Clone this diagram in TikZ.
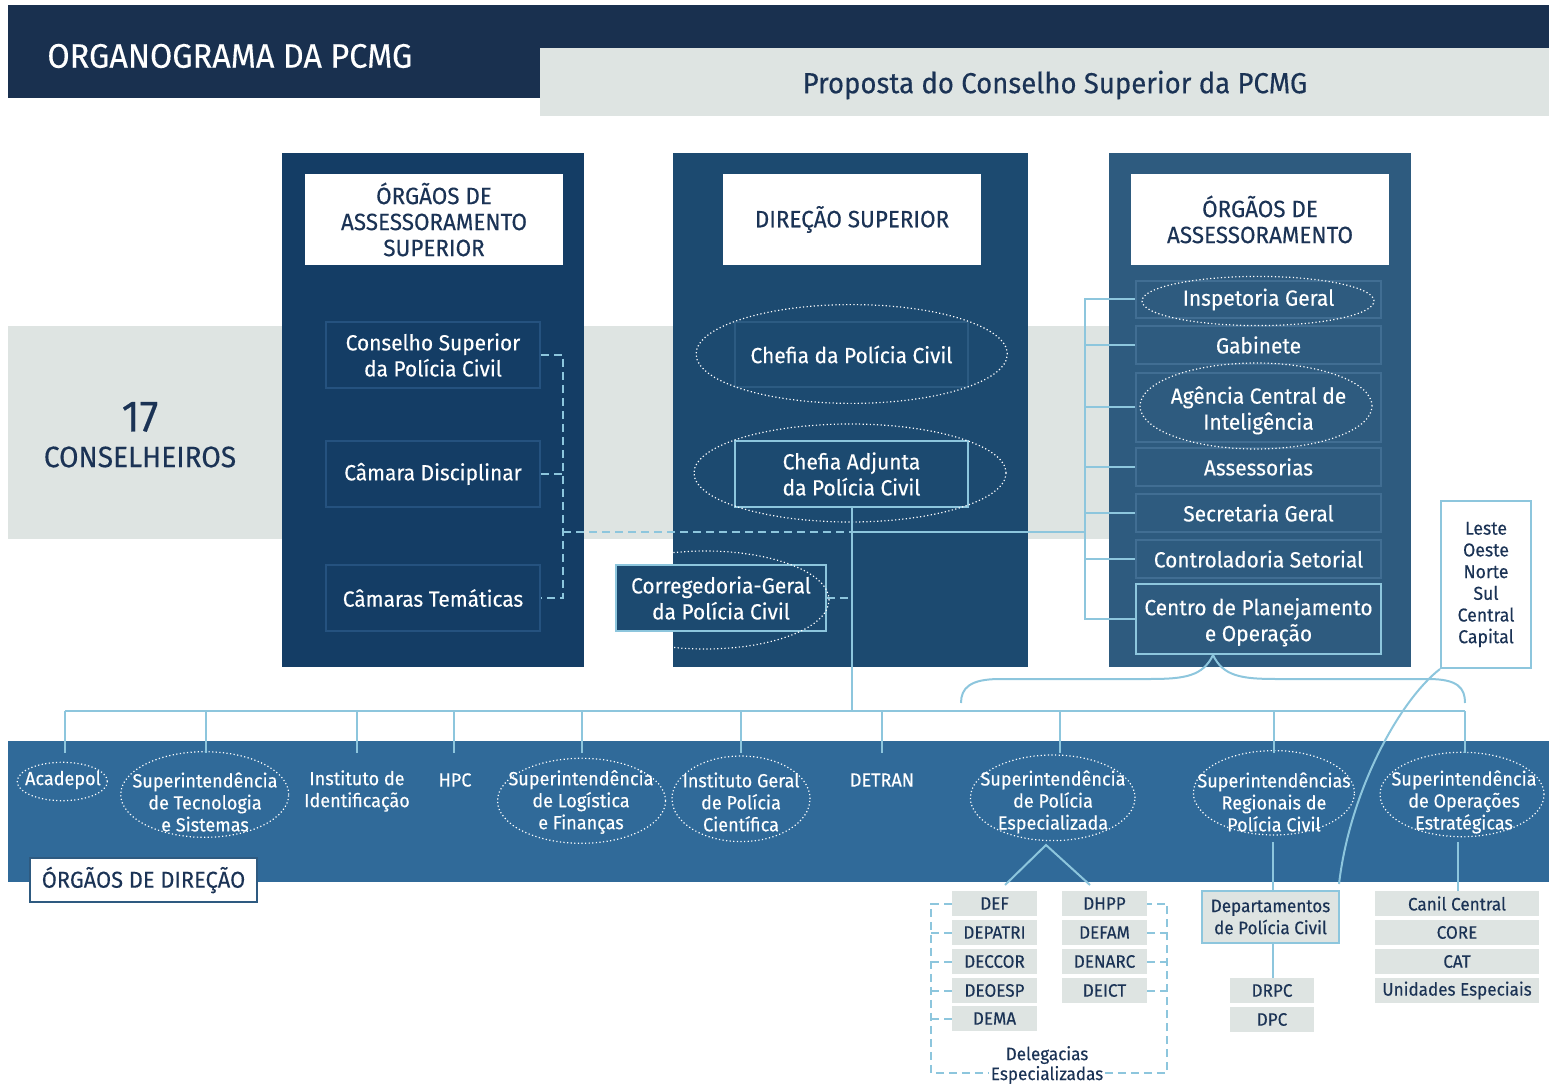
\documentclass[tikz,border=0pt]{standalone}
\usepackage{fontspec}
\setmainfont{Fira Sans}[FakeStretch=0.95, FakeBold=0.3]
\definecolor{hdr}{HTML}{19304F}
\definecolor{lgray}{HTML}{DEE4E2}
\definecolor{pnlL}{HTML}{143D65}
\definecolor{pnlM}{HTML}{1C4A70}
\definecolor{pnlR}{HTML}{2E5B7F}
\definecolor{band}{HTML}{306A99}
\definecolor{lblue}{HTML}{8DC6DD}
\definecolor{tdark}{HTML}{1B3355}
\definecolor{bdL}{HTML}{25527F}
\definecolor{bdM}{HTML}{2C5B82}
\definecolor{bdR}{HTML}{416E93}
\definecolor{bdD}{HTML}{2E5A80}
\newcommand\mkbox[7]{\node[#1, minimum width={(#5-#3)*0.5pt}, minimum height={(#6-#4)*0.5pt}] (#2) at ({(#3+#5)/2},{(#4+#6)/2}) {#7};}
\begin{document}
\begin{tikzpicture}[x=0.5pt,y=-0.5pt,
  ibL/.style={draw=bdL, line width=0.8pt, fill=pnlL, text=white, align=center, inner sep=0pt, font=\fontsize{11pt}{13pt}\selectfont},
  ibM/.style={ibL, draw=bdM, fill=pnlM},
  ibA/.style={ibL, draw=lblue, fill=pnlM},
  ibR/.style={ibL, draw=bdR, fill=pnlR},
  ibRA/.style={ibL, draw=lblue, fill=pnlR},
  hbox/.style={fill=white, text=tdark, align=center, inner sep=0pt, font=\fontsize{11.8pt}{13pt}\selectfont},
  btxt/.style={text=white, align=center, inner sep=0pt, font=\fontsize{9.5pt}{11pt}\selectfont},
  gbox/.style={fill=lgray, text=tdark, inner sep=0pt, align=center, font=\fontsize{9pt}{11pt}\selectfont},
  conn/.style={draw=lblue, line width=1pt},
  dconn/.style={conn, dash pattern=on 4pt off 2.5pt},
  ell/.style={draw=white, line width=0.6pt, dash pattern=on 0.6pt off 1.2pt}
]
\useasboundingbox (0,0) rectangle (1551,1090);
% header
\fill[hdr] (8,5) rectangle (1549,48);
\fill[hdr] (8,47) rectangle (540,98);
\fill[lgray] (540,48) rectangle (1549,116);
\node[text=white, anchor=west, inner sep=0pt, font=\fontsize{17pt}{20pt}\selectfont] (title) at (47,56) {ORGANOGRAMA DA PCMG};
\node[text=tdark, inner sep=0pt, font=\fontsize{14.5pt}{17pt}\selectfont] (prop) at (1055,85) {Proposta do Conselho Superior da PCMG};
% gray band
\fill[lgray] (8,326) rectangle (1110,539);
\node[text=tdark, inner sep=0pt, font=\fontsize{22pt}{24pt}\selectfont] (n17) at (140,417) {17};
\node[text=tdark, inner sep=0pt, font=\fontsize{14.8pt}{16pt}\selectfont] (cons) at (140,457) {CONSELHEIROS};
% panels
\fill[pnlL] (282,153) rectangle (584,667);
\fill[pnlM] (673,153) rectangle (1028,667);
\fill[pnlR] (1109,153) rectangle (1411,667);
\mkbox{hbox}{hL}{305}{174}{563}{265}{ÓRGÃOS DE\\ASSESSORAMENTO\\SUPERIOR}
\mkbox{hbox}{hM}{723}{174}{981}{265}{DIREÇÃO SUPERIOR}
\mkbox{hbox}{hR}{1131}{174}{1389}{265}{ÓRGÃOS DE\\ASSESSORAMENTO}
% left column
\mkbox{ibL}{cs}{326}{322}{540}{388}{Conselho Superior\\da Polícia Civil}
\mkbox{ibL}{cd}{326}{441}{540}{507}{Câmara Disciplinar}
\mkbox{ibL}{ct}{326}{565}{540}{631}{Câmaras Temáticas}
% middle column
\mkbox{ibM}{chefia}{735}{322}{968}{387}{Chefia da Polícia Civil}
\mkbox{ibA}{adj}{735}{441}{968}{507}{Chefia Adjunta\\da Polícia Civil}
\mkbox{ibA}{corr}{616}{565}{826}{631}{Corregedoria-Geral\\da Polícia Civil}
\draw[ell] (851.7,354) ellipse [x radius=77.8pt, y radius=24.7pt];
\draw[ell] (850,473) ellipse [x radius=78pt, y radius=24.5pt];
\begin{scope}
\clip (673,153) rectangle (1028,667);
\draw[ell] (705,600) ellipse [x radius=62pt, y radius=24.5pt];
\end{scope}
% right column
\mkbox{ibR}{insp}{1136}{281}{1381}{318}{Inspetoria Geral}
\mkbox{ibR}{gab}{1136}{326}{1381}{364}{Gabinete}
\mkbox{ibR}{agen}{1136}{373}{1381}{442}{\raisebox{-2pt}[\height][\depth]{\begin{tabular}{@{}c@{}}Agência Central de\\Inteligência\end{tabular}}}
\mkbox{ibR}{ass}{1136}{448}{1381}{486}{Assessorias}
\mkbox{ibR}{sec}{1136}{494}{1381}{532}{Secretaria Geral}
\mkbox{ibR}{cont}{1136}{540}{1381}{578}{Controladoria Setorial}
\mkbox{ibRA}{cpo}{1136}{584}{1381}{654}{\raisebox{-2pt}[\height][\depth]{\begin{tabular}{@{}c@{}}Centro de Planejamento\\e Operação\end{tabular}}}
\draw[ell] (1258,301) ellipse [x radius=58pt, y radius=12.3pt];
\draw[ell] (1256,406) ellipse [x radius=58pt, y radius=21.5pt];
% connectors top
\coordinate (lbk) at (563,532);
\coordinate (jm) at (851.5,532);
\coordinate (rbk) at (1085,532);
\draw[dconn] (cs.east) -- (cs.east -| lbk) -- (ct.east -| lbk) -- (ct.east);
\draw[dconn] (cd.east) -- (cd.east -| lbk);
\draw[dconn] (lbk) -- (jm);
\draw[conn] (jm) -- (rbk);
\draw[conn] (insp.west) -- (insp.west -| rbk) -- (cpo.west -| rbk) -- (cpo.west);
\foreach \b in {gab,agen,ass,sec,cont} \draw[conn] (\b.west) -- (\b.west -| rbk);
\coordinate (busL) at (65,711);
\coordinate (busR) at (1465,711);
\draw[conn] (adj.south) -- (adj.south |- busL);
\draw[dconn] (corr.east) -- (corr.east -| adj.south);
\draw[conn] (busL) -- (busR);
% brace
\coordinate (btip) at (1213,655);
\coordinate (bL) at (961,703);
\coordinate (bR) at (1465,703);
\draw[conn] (btip) .. controls (1203,676) and (1185,679) .. (1150,679) -- (1000,679) .. controls (970,679) and (961,688) .. (bL);
\draw[conn] (btip) .. controls (1223,676) and (1241,679) .. (1276,679) -- (1428,679) .. controls (1458,679) and (1465,688) .. (bR);
% Leste box
\mkbox{gbox, fill=white, draw=lblue, line width=1pt, font=\fontsize{9.3pt}{10.85pt}\selectfont}{leste}{1441}{501}{1531}{668}{Leste\\Oeste\\Norte\\Sul\\Central\\Capital}
% bottom band
\fill[band] (8,741) rectangle (1549,882);
\coordinate (curveEnd) at (1339,884);
\draw[conn] (leste.south west) .. controls (1400,700) and (1350,790) .. (curveEnd);
\node[btxt] (acad) at (63,780) {Acadepol};
\node[btxt] (stec) at (205,802) {Superintendência\\de Tecnologia\\e Sistemas};
\node[btxt] (iid) at (357,791) {Instituto de\\Identificação};
\node[btxt] (hpc) at (455,780) {HPC};
\node[btxt] (slog) at (581,802) {Superintendência\\de Logística\\e Finanças};
\node[btxt] (igpc) at (741,802) {Instituto Geral\\de Polícia\\Científica};
\node[btxt] (detran) at (882,780) {DETRAN};
\node[btxt] (spe) at (1053,802) {Superintendência\\de Polícia\\Especializada};
\node[btxt] (srpc) at (1274,802) {Superintendências\\Regionais de\\Polícia Civil};
\node[btxt] (soe) at (1464,802) {Superintendência\\de Operações\\Estratégicas};
\draw[ell] (62.3,781.5) ellipse [x radius=22.5pt, y radius=9.6pt];
\draw[ell] (204.7,794.5) ellipse [x radius=42pt, y radius=21.4pt];
\draw[ell] (581.5,800.8) ellipse [x radius=42pt, y radius=21.25pt];
\draw[ell] (741,798.8) ellipse [x radius=34.5pt, y radius=21.4pt];
\draw[ell] (1052.7,797.8) ellipse [x radius=41.15pt, y radius=21.4pt];
\draw[ell] (1273.9,792.8) ellipse [x radius=40.25pt, y radius=21.1pt];
\draw[ell] (1462,794.5) ellipse [x radius=41pt, y radius=21.1pt];
\foreach \x [count=\i] in {65,206,357,454,582,741,882,1060,1274,1465} {
  \coordinate (d\i) at (\x,753);
  \draw[conn] (d\i |- busL) -- (d\i);
}
\mkbox{hbox, draw=bdD, line width=1pt, font=\fontsize{11.5pt}{13pt}\selectfont}{odir}{30}{858}{257}{902}{ÓRGÃOS DE DIREÇÃO}
% Especializada
\coordinate (vapex) at (1046,845);
\coordinate (vL) at (1005,885);
\coordinate (vR) at (1090,885);
\draw[conn] (vL) -- (vapex) -- (vR);
\mkbox{gbox}{def}{952}{891}{1037}{916}{DEF}
\mkbox{gbox}{depatri}{952}{920}{1037}{945}{DEPATRI}
\mkbox{gbox}{deccor}{952}{949}{1037}{974}{DECCOR}
\mkbox{gbox}{deoesp}{952}{978}{1037}{1003}{DEOESP}
\mkbox{gbox}{dema}{952}{1006}{1037}{1031}{DEMA}
\mkbox{gbox}{dhpp}{1062}{891}{1147}{916}{DHPP}
\mkbox{gbox}{defam}{1062}{920}{1147}{945}{DEFAM}
\mkbox{gbox}{denarc}{1062}{949}{1147}{974}{DENARC}
\mkbox{gbox}{deict}{1062}{978}{1147}{1003}{DEICT}
\coordinate (dlx) at (931,1073);
\coordinate (drx) at (1167,1073);
\draw[dconn] (def.west) -- (def.west -| dlx) -- (dlx) -- (drx) -- (dhpp.east -| drx) -- (dhpp.east);
\foreach \b in {depatri,deccor,deoesp,dema} \draw[dconn] (\b.west) -- (\b.west -| dlx);
\foreach \b in {defam,denarc,deict} \draw[dconn] (\b.east) -- (\b.east -| drx);
\node[fill=white, text=tdark, align=center, inner sep=1pt, font=\fontsize{9pt}{8pt}\selectfont] (deleg) at (1047,1065) {Delegacias\\Especializadas};
% Regionais
\mkbox{gbox, draw=lblue, line width=1pt}{dep}{1202}{891}{1339}{943}{Departamentos\\de Polícia Civil}
\mkbox{gbox}{drpc}{1230}{978}{1314}{1003}{DRPC}
\mkbox{gbox}{dpc}{1230}{1007}{1314}{1032}{DPC}
\coordinate (srdown) at (1273,842);
\draw[conn] (srdown) -- (srdown |- dep.north);
\draw[conn] (dep.south -| srdown) -- (drpc.north -| srdown);
% Estrategicas
\mkbox{gbox}{canil}{1375}{891}{1539}{916}{Canil Central}
\mkbox{gbox}{core}{1375}{920}{1539}{945}{CORE}
\mkbox{gbox}{cat}{1375}{949}{1539}{974}{CAT}
\mkbox{gbox}{unid}{1375}{978}{1539}{1003}{Unidades Especiais}
\coordinate (soedown) at (1458,842);
\draw[conn] (soedown) -- (soedown |- canil.north);
\end{tikzpicture}
\end{document}
